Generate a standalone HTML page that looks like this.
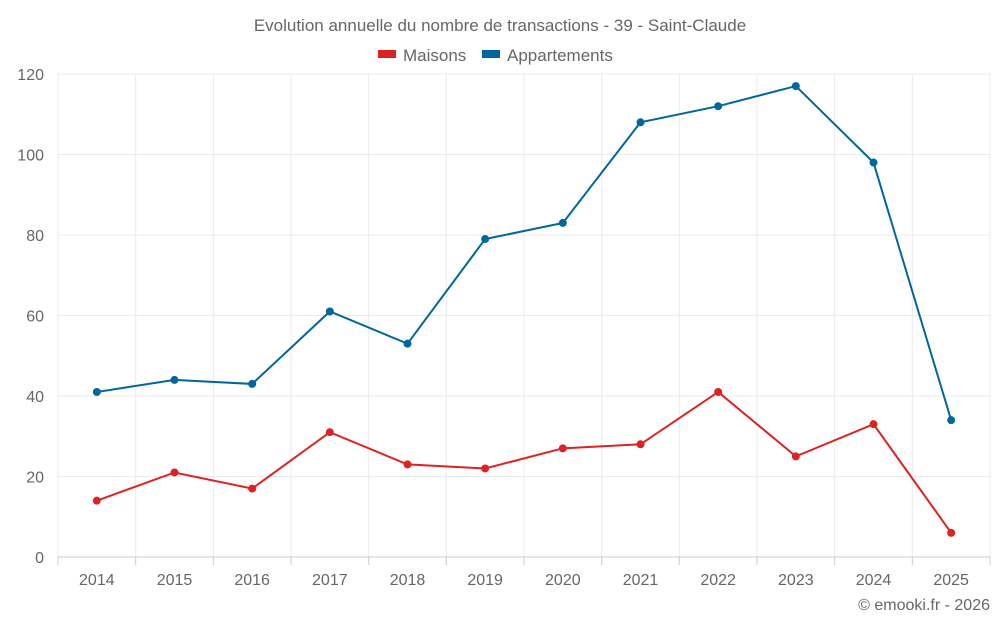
<!DOCTYPE html>
<html><head><meta charset="utf-8">
<style>
body{margin:0;background:#fff;font-family:"Liberation Sans",sans-serif;}
svg text{font-family:"Liberation Sans",sans-serif;fill:#666;}
</style></head>
<body>
<svg id="chart" width="1000" height="625">
<text x="500" y="31" text-anchor="middle" font-size="17">Evolution annuelle du nombre de transactions - 39 - Saint-Claude</text>
<g>
<rect x="378" y="50" width="18" height="8" fill="#dd2222"/>
<text x="403" y="61" font-size="17">Maisons</text>
<rect x="482" y="50" width="18" height="8" fill="#00669c"/>
<text x="507" y="61" font-size="17">Appartements</text>
</g>
<g id="grid"></g><g id="axes"></g><g id="series"></g>
<text x="990" y="610" text-anchor="end" font-size="16">© emooki.fr - 2026</text>
</svg>
<script>
const categories=["2014","2015","2016","2017","2018","2019","2020","2021","2022","2023","2024","2025"];
const maisons=[14,21,17,31,23,22,27,28,41,25,33,6];
const appartements=[41,44,43,61,53,79,83,108,112,117,98,34];
const yTicks=[0,20,40,60,80,100,120];
const NS="http://www.w3.org/2000/svg";
const L=58,R=990,T=74,B=557,yMax=120;
const step=(R-L)/categories.length;
const x=i=>L+step*(i+0.5);
const y=v=>B-(v/yMax)*(B-T);
function mk(tag,attrs,parent){const e=document.createElementNS(NS,tag);for(const k in attrs)e.setAttribute(k,attrs[k]);parent.appendChild(e);return e;}
const grid=document.getElementById('grid'),axes=document.getElementById('axes'),series=document.getElementById('series');
yTicks.forEach(t=>{
 if(t>0){const g=mk('line',{x1:L,x2:R,y1:y(t),y2:y(t),stroke:'#ebebeb'},grid);
 
 }
 const lb=mk('text',{x:L-14,y:y(t)+6,'text-anchor':'end','font-size':'16'},axes);lb.textContent=t;
 
 
});
for(let i=0;i<=categories.length;i++){
 const xv=L+step*i;
 const g=mk('line',{x1:xv,x2:xv,y1:T,y2:B,stroke:'#ebebeb'},grid);
 
 
 const tk=mk('line',{x1:xv,x2:xv,y1:B,y2:B+8,stroke:'#ccc'},axes);
 
 
}
const ax=mk('line',{x1:L,x2:R,y1:B,y2:B,stroke:'#ccc'},axes);


categories.forEach((c,i)=>{
 const lb=mk('text',{x:x(i),y:B+28,'text-anchor':'middle','font-size':'16'},axes);lb.textContent=c;
 
 
});
function draw(data,color,name){
 const p=mk('polyline',{points:data.map((v,i)=>x(i)+','+y(v)).join(' '),fill:'none',stroke:color,'stroke-width':2},series);
 
 
 data.forEach((v,i)=>{
  const c=mk('circle',{cx:x(i),cy:y(v),r:4,fill:color},series);
  
  
 });
}
draw(appartements,'#00669c','appartements');
draw(maisons,'#dd2222','maisons');
</script>
</body></html>
